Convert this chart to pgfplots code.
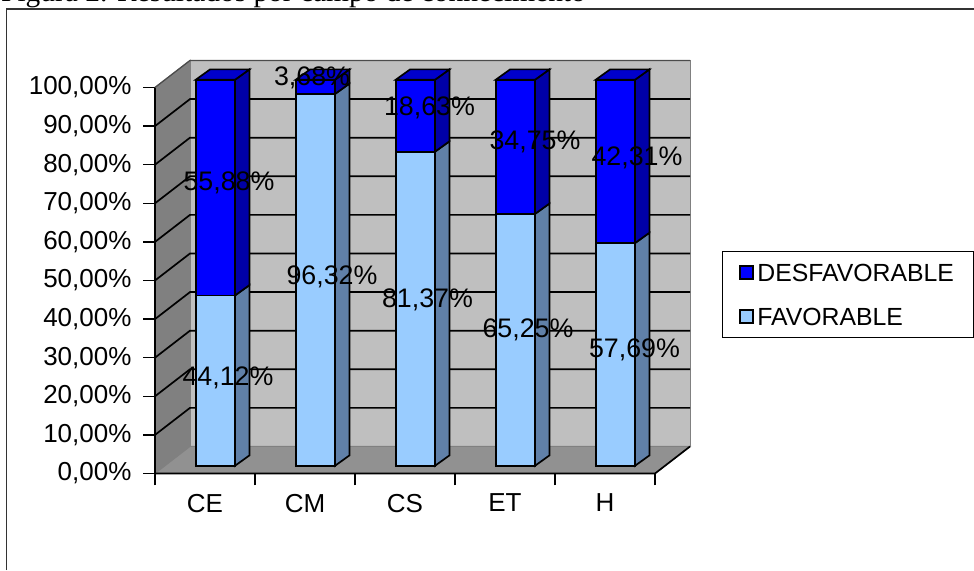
\documentclass[border=0pt]{standalone}
\usepackage{pgfplots}
\usepackage{pgfplotstable}
\usepackage{fontspec}
\pgfplotsset{compat=1.18}
\setmainfont{Liberation Sans}
\newfontfamily\serifont{Liberation Serif}
\definecolor{darkblue}{HTML}{0000FF}
\definecolor{darkside}{HTML}{0000A8}
\definecolor{darktop}{HTML}{0000CC}
\definecolor{lightblue}{HTML}{99CCFF}
\definecolor{lightside}{HTML}{6080A8}

% x = category position, base = gap between floor front edge and the bar foot
\pgfplotstableread{
x base fav desf
0 2 44.12 55.88
1 2 96.32 3.68
2 2 81.37 18.63
3 2 65.25 34.75
4 2 57.69 42.31
}\resultados

\pgfplotsset{
  frame/.style={
    scale only axis, width=500pt, height=386pt,
    at={(155pt,96.5pt)}, anchor=south west,
    xmin=-0.5, xmax=4.5, ymin=0, ymax=100,
    clip=false,
  },
  side/.style={fill=#1, draw=black, line width=1.7pt, forget plot},
  gridl/.style={black, line width=1.7pt, forget plot},
}
\tikzset{vlab/.style={font=\fontsize{26.8}{30}\selectfont, inner sep=0pt, text=black}}

\begin{document}
\begin{tikzpicture}
\path[use as bounding box] (0,0) rectangle (974pt,570pt);
\clip (0,0) rectangle (974pt,570pt);

\node[anchor=base west, inner sep=0pt, font=\serifont\fontsize{29.4}{32}\selectfont]
  at (1pt,568pt) {Figura 2. Resultados por campo de conhecimento};
\draw[line width=1.6pt, black!80] (6.5pt,0pt) -- (6.5pt,561pt) -- (974pt,561pt);

% walls, floor, grid and the side and top faces of the bars
\begin{axis}[
  frame,
  axis line style={draw=none},
  tick style={black, line width=1.5pt},
  major tick length=12pt,
  tick align=outside,
  xtick pos=bottom, ytick pos=left,
  xtick={-0.5,0.5,1.5,2.5,3.5,4.5},
  x tick label as interval=true,
  xticklabels={CE,CM,CS,ET,H},
  ytick={0,10,...,100},
  yticklabels={{0,00\%},{10,00\%},{20,00\%},{30,00\%},{40,00\%},{50,00\%},{60,00\%},{70,00\%},{80,00\%},{90,00\%},{100,00\%}},
  ticklabel style={font=\fontsize{26}{30}\selectfont},
  y tick label style={xshift=-8pt},
  x tick label style={yshift=-5pt},
  /pgf/number format/assume math mode=true,
]
\addplot[fill=black!25, draw=gray, line width=1pt, forget plot] coordinates {(-0.15,7) (4.85,7) (4.85,107) (-0.15,107)} --cycle;
\addplot[fill=gray, draw=gray, line width=1pt, forget plot] coordinates {(-0.5,0) (-0.15,7) (-0.15,107) (-0.5,100)} --cycle;
\addplot[fill=black!43, draw=gray, line width=1pt, forget plot] coordinates {(-0.5,0) (4.5,0) (4.85,7) (-0.15,7)} --cycle;

% grid lines: along the left wall, then along the back wall
\addplot[gridl] coordinates {(-0.5,10) (-0.15,17) (4.85,17)};
\addplot[gridl] coordinates {(-0.5,20) (-0.15,27) (4.85,27)};
\addplot[gridl] coordinates {(-0.5,30) (-0.15,37) (4.85,37)};
\addplot[gridl] coordinates {(-0.5,40) (-0.15,47) (4.85,47)};
\addplot[gridl] coordinates {(-0.5,50) (-0.15,57) (4.85,57)};
\addplot[gridl] coordinates {(-0.5,60) (-0.15,67) (4.85,67)};
\addplot[gridl] coordinates {(-0.5,70) (-0.15,77) (4.85,77)};
\addplot[gridl] coordinates {(-0.5,80) (-0.15,87) (4.85,87)};
\addplot[gridl] coordinates {(-0.5,90) (-0.15,97) (4.85,97)};
% axis lines
\addplot[gridl] coordinates {(-0.5,100) (-0.5,0) (4.5,0) (4.85,7)};
\addplot[black!70, line width=1.3pt, forget plot] coordinates {(-0.5,100) (-0.15,107) (4.85,107)};

% CE
\addplot[side=lightside] coordinates {(0.30,2) (0.445,4.7) (0.445,48.82) (0.30,46.12)} --cycle;
\addplot[side=darkside] coordinates {(0.30,46.12) (0.445,48.82) (0.445,104.7) (0.30,102)} --cycle;
\addplot[side=darktop] coordinates {(-0.093,102) (0.052,104.7) (0.445,104.7) (0.30,102)} --cycle;
% CM
\addplot[side=lightside] coordinates {(1.30,2) (1.445,4.7) (1.445,101.02) (1.30,98.32)} --cycle;
\addplot[side=darkside] coordinates {(1.30,98.32) (1.445,101.02) (1.445,104.7) (1.30,102)} --cycle;
\addplot[side=darktop] coordinates {(0.907,102) (1.052,104.7) (1.445,104.7) (1.30,102)} --cycle;
% CS
\addplot[side=lightside] coordinates {(2.30,2) (2.445,4.7) (2.445,86.07) (2.30,83.37)} --cycle;
\addplot[side=darkside] coordinates {(2.30,83.37) (2.445,86.07) (2.445,104.7) (2.30,102)} --cycle;
\addplot[side=darktop] coordinates {(1.907,102) (2.052,104.7) (2.445,104.7) (2.30,102)} --cycle;
% ET
\addplot[side=lightside] coordinates {(3.30,2) (3.445,4.7) (3.445,69.95) (3.30,67.25)} --cycle;
\addplot[side=darkside] coordinates {(3.30,67.25) (3.445,69.95) (3.445,104.7) (3.30,102)} --cycle;
\addplot[side=darktop] coordinates {(2.907,102) (3.052,104.7) (3.445,104.7) (3.30,102)} --cycle;
% H
\addplot[side=lightside] coordinates {(4.30,2) (4.445,4.7) (4.445,62.39) (4.30,59.69)} --cycle;
\addplot[side=darkside] coordinates {(4.30,59.69) (4.445,62.39) (4.445,104.7) (4.30,102)} --cycle;
\addplot[side=darktop] coordinates {(3.907,102) (4.052,104.7) (4.445,104.7) (4.30,102)} --cycle;
\end{axis}

% front faces of the bars and legend
\begin{axis}[
  frame,
  hide axis,
  ybar stacked,
  bar width=39.3pt,
  bar shift=10.4pt,
  reverse legend,
  legend cell align=left,
  legend style={
    at={(1.134,0.576)}, anchor=north west,
    draw=black, line width=1.3pt,
    inner xsep=16.5pt, inner ysep=12.5pt,
    row sep=27pt,
    font=\fontsize{24.8}{28}\selectfont,
    nodes={inner xsep=3.5pt, inner ysep=0pt, text height=17pt, text depth=0pt},
  },
]
\addplot[draw=none, fill=none, forget plot] table[x=x, y=base] {\resultados};
\addplot[fill=lightblue, draw=black, line width=1.7pt,
  legend image code/.code={\draw[fill=lightblue, draw=black, line width=1.7pt] (0pt,-6pt) rectangle (13pt,7pt);}]
  table[x=x, y=fav] {\resultados};
\addlegendentry{FAVORABLE}
\addplot[fill=darkblue, draw=black, line width=1.7pt,
  legend image code/.code={\draw[fill=darkblue, draw=black, line width=1.7pt] (0pt,-6pt) rectangle (13pt,7pt);}]
  table[x=x, y=desf] {\resultados};
\addlegendentry{DESFAVORABLE\hspace{2pt}}
\end{axis}

% value labels, on top of the bars
\begin{axis}[frame, hide axis]
\node[vlab] at (axis cs:0.23,24.7) {44,12\%};
\node[vlab] at (axis cs:0.24,75.2) {55,88\%};
\node[vlab] at (axis cs:1.27,50.9) {96,32\%};
\node[vlab] at (axis cs:1.07,102.6) {3,68\%};
\node[vlab] at (axis cs:2.225,44.9) {81,37\%};
\node[vlab] at (axis cs:2.245,94.6) {18,63\%};
\node[vlab] at (axis cs:3.23,37.1) {65,25\%};
\node[vlab] at (axis cs:3.30,85.8) {34,75\%};
\node[vlab] at (axis cs:4.295,32) {57,69\%};
\node[vlab] at (axis cs:4.32,81.9) {42,31\%};
\end{axis}
\end{tikzpicture}
\end{document}
